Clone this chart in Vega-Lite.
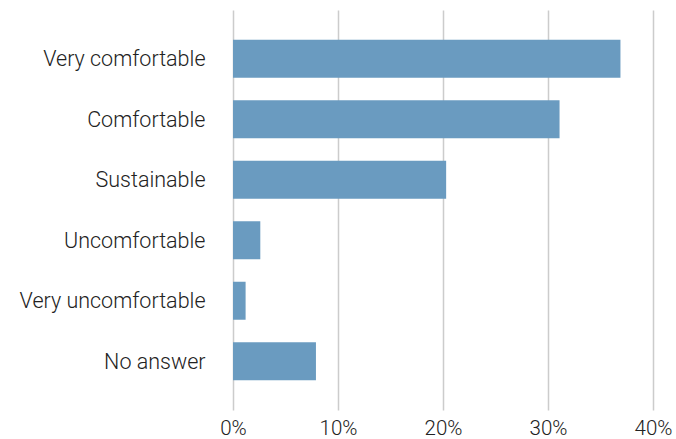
{
  "$schema": "https://vega.github.io/schema/vega-lite/v6.json",
  "autosize": {"type": "none"},
  "width": 420,
  "height": 400,
  "padding": {"left": 233, "top": 10, "right": 23, "bottom": 29},
  "background": "white",
  "config": {"view": {"stroke": null}, "font": "Roboto"},
  "data": {
    "values": [
      {"answer": "Very comfortable", "share": 36.9},
      {"answer": "Comfortable", "share": 31.1},
      {"answer": "Sustainable", "share": 20.3},
      {"answer": "Uncomfortable", "share": 2.6},
      {"answer": "Very uncomfortable", "share": 1.2},
      {"answer": "No answer", "share": 7.9}
    ]
  },
  "mark": {"type": "bar", "color": "#6a9bc0"},
  "encoding": {
    "y": {
      "field": "answer",
      "type": "nominal",
      "sort": null,
      "scale": {"paddingInner": 0.372, "paddingOuter": 0.492},
      "axis": {
        "title": null,
        "domain": false,
        "ticks": false,
        "grid": false,
        "labelPadding": 28,
        "labelLimit": 300,
        "labelOffset": 1.5,
        "labelFontSize": 21.5,
        "labelFont": "Roboto",
        "labelFontWeight": 300,
        "labelColor": "#222222"
      }
    },
    "x": {
      "field": "share",
      "type": "quantitative",
      "scale": {"domain": [0, 40], "nice": false},
      "axis": {
        "title": null,
        "domain": false,
        "ticks": false,
        "values": [0, 10, 20, 30, 40],
        "labelExpr": "datum.value + '%'",
        "labelPadding": 8.5,
        "labelFontSize": 20.5,
        "labelFont": "Roboto",
        "labelFontWeight": 300,
        "labelColor": "#222222",
        "labelFlush": false,
        "gridColor": "#cccccc",
        "gridWidth": 1.5
      }
    }
  }
}
